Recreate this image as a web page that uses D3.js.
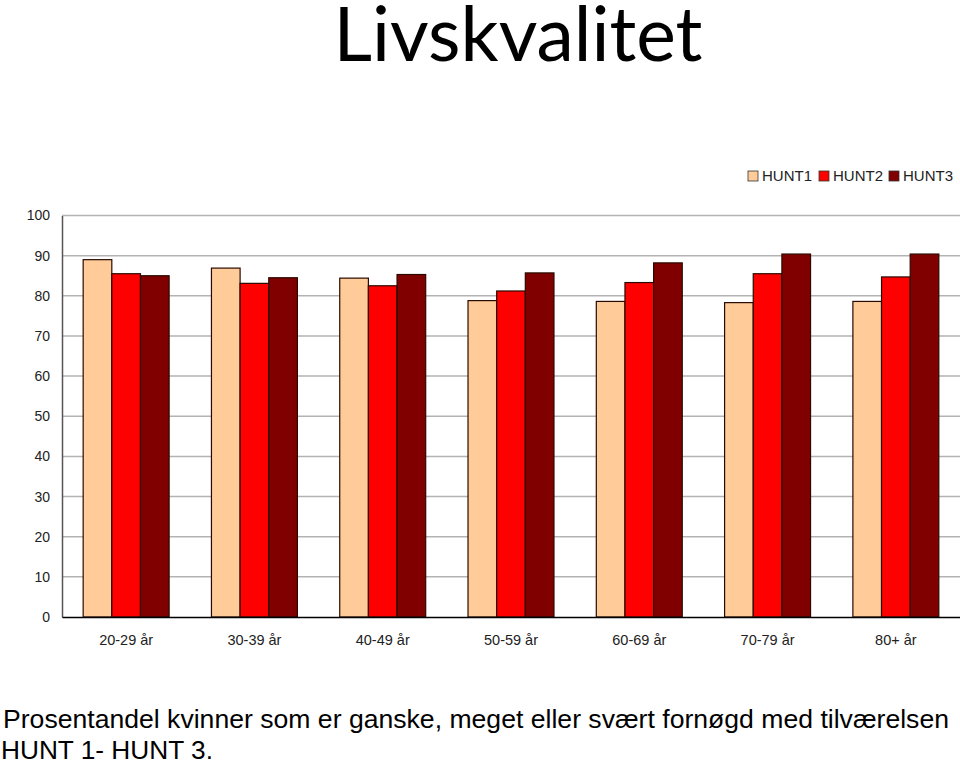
<!DOCTYPE html>
<html><head><meta charset="utf-8">
<script src="https://cdn.jsdelivr.net/npm/d3@7"></script>
<style>body{margin:0;background:#fff}svg{display:block}</style>
</head><body>
<svg id="c" width="960" height="765"></svg>
<script>
const categories = ["20-29 år","30-39 år","40-49 år","50-59 år","60-69 år","70-79 år","80+ år"];
const seriesNames = ["HUNT1","HUNT2","HUNT3"];
const hunt1 = [89.0, 86.9, 84.4, 78.8, 78.6, 78.3, 78.6];
const hunt2 = [85.5, 83.1, 82.5, 81.2, 83.3, 85.5, 84.7];
const hunt3 = [85.0, 84.5, 85.3, 85.7, 88.2, 90.4, 90.4];
const yTicks = [0,10,20,30,40,50,60,70,80,90,100];
const colors = ["#FFCC99","#FF0000","#800000"];

const svg = d3.select("#c");
const x0 = d3.scaleBand().domain(categories).range([62, 960]).paddingInner(0.33).paddingOuter(0.165);
const x1 = d3.scaleBand().domain(seriesNames).range([0, x0.bandwidth()]);
const y = d3.scaleLinear().domain([0,100]).range([617, 215.5]);

// title
svg.append("text").attr("x", 518).attr("y", 61).attr("text-anchor","middle")
  .attr("font-family","Lato, 'Open Sans', sans-serif").attr("font-size", 75).attr("fill","#000")
  .text("Livskvalitet");

// gridlines
svg.append("g").selectAll("line").data(yTicks.filter(d=>d>0)).join("line")
  .attr("x1", 62).attr("x2", 960).attr("y1", d=>y(d)).attr("y2", d=>y(d))
  .attr("stroke","#b3b3b3").attr("stroke-width",1.5);

// y axis
const ya = svg.append("g").attr("transform","translate(62,0)")
  .call(d3.axisLeft(y).tickValues(yTicks).tickSize(0).tickPadding(12));
ya.select(".domain").attr("stroke","#555").attr("stroke-width",1.5);
ya.selectAll("text").attr("font-family","Arial, 'Liberation Sans', sans-serif").attr("font-size",14).attr("fill","#222");

// bars
const data = categories.map((c,i)=>({c, vals:[hunt1[i],hunt2[i],hunt3[i]]}));
const g = svg.append("g").selectAll("g").data(data).join("g")
  .attr("transform", d=>`translate(${x0(d.c)},0)`);
g.selectAll("rect").data(d=>d.vals.map((v,j)=>({v, s:seriesNames[j], j}))).join("rect")
  .attr("x", d=>x1(d.s)).attr("width", x1.bandwidth())
  .attr("y", d=>y(d.v)).attr("height", d=>y(0)-y(d.v))
  .attr("fill", d=>colors[d.j]).attr("stroke","#2a0a00").attr("stroke-width",1.2);

// x axis
const xa = svg.append("g").attr("transform","translate(0,617)")
  .call(d3.axisBottom(x0).tickSize(0).tickPadding(18));
xa.select(".domain").attr("stroke","#000").attr("stroke-width",1.5);
xa.selectAll("text").attr("font-family","Arial, 'Liberation Sans', sans-serif").attr("font-size",14.5).attr("fill","#222");

// legend
const lg = svg.append("g");
const lx = [748, 819, 889];
seriesNames.forEach((s,i)=>{
  lg.append("rect").attr("x", lx[i]).attr("y", 171).attr("width",10).attr("height",10)
    .attr("fill", colors[i]).attr("stroke","#333").attr("stroke-width",0.8);
  lg.append("text").attr("x", lx[i]+14).attr("y", 181)
    .attr("font-family","Arial, 'Liberation Sans', sans-serif").attr("font-size",15).attr("fill","#222").text(s);
});

// caption
const cap = svg.append("g").attr("font-family","Arial, 'Liberation Sans', sans-serif").attr("font-size",26).attr("fill","#000");
cap.append("text").attr("x", 3).attr("y", 728).attr("textLength", 946).attr("lengthAdjust","spacingAndGlyphs")
  .text("Prosentandel kvinner som er ganske, meget eller svært fornøgd med tilværelsen");
cap.append("text").attr("x", 1).attr("y", 759).attr("textLength", 212).attr("lengthAdjust","spacingAndGlyphs")
  .text("HUNT 1- HUNT 3.");
</script>
</body></html>
